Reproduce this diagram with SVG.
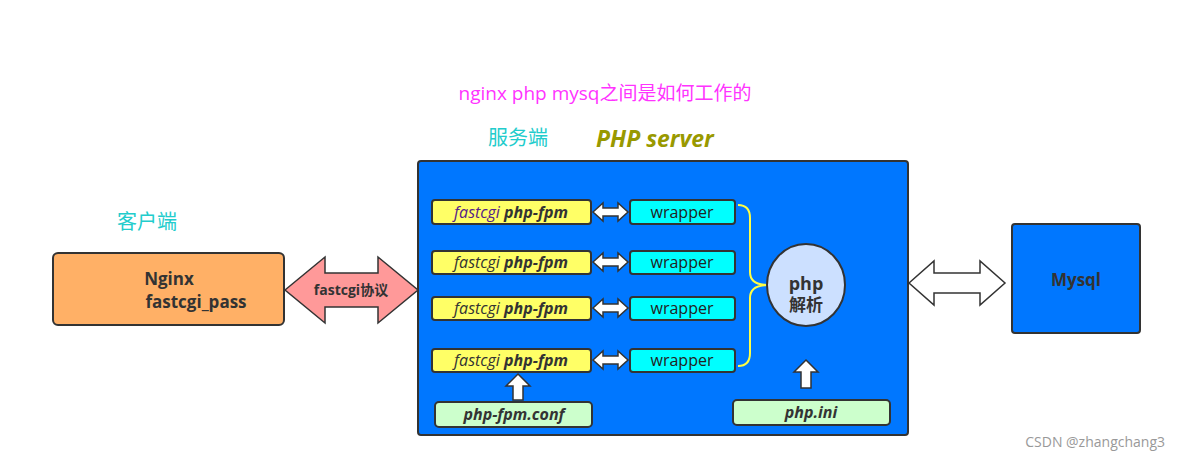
<svg xmlns="http://www.w3.org/2000/svg" width="1179" height="460" viewBox="0 0 1179 460">
<style>
text{font-family:"Open Sans","Liberation Sans","Noto Sans CJK SC",sans-serif}
.y{fill:#ffff66;stroke:#333;stroke-width:2}
.c{fill:#00ffff;stroke:#333;stroke-width:2}
.g{fill:#ccffcc;stroke:#333;stroke-width:2}
.w{fill:#fff;stroke:#333;stroke-width:1.5}
.t{font-size:16px;fill:#333;font-style:italic}
.b{font-weight:bold}
.wr{font-size:16px;fill:#222}
</style>
<rect width="1179" height="460" fill="#fff"/>
<text x="605" y="100" text-anchor="middle" font-size="19" fill="#ff33ff">nginx php mysq之间是如何工作的</text>
<text x="488" y="145" font-size="20" fill="#22cccc">服务端</text>
<text x="596" y="147" font-size="23" font-weight="bold" font-style="italic" fill="#999900">PHP server</text>
<text x="117" y="229" font-size="20" fill="#22cccc">客户端</text>
<g id="server"><rect x="418" y="161" width="490" height="274" rx="3" fill="#0077ff" stroke="#333" stroke-width="2"/></g>
<g id="nginx"><rect x="53" y="253" width="231" height="72" rx="5" fill="#ffb066" stroke="#333" stroke-width="2"/>
<text x="169" y="285" text-anchor="middle" font-size="17" font-weight="bold" fill="#333">Nginx</text>
<text x="196" y="308" text-anchor="middle" font-size="17" font-weight="bold" fill="#333">fastcgi_pass</text></g>
<g id="mysql"><rect x="1012" y="224" width="128" height="109" rx="3" fill="#0077ff" stroke="#333" stroke-width="2"/>
<text x="1076" y="286" text-anchor="middle" font-size="17" font-weight="bold" fill="#333">Mysql</text></g>
<g id="connectors">
<path d="M285,290 L325,257 L325,273 L378,273 L378,257 L418,290 L378,323 L378,307 L325,307 L325,323 Z" fill="#ff9999" stroke="#333" stroke-width="1.5"/>
<text x="351" y="295" text-anchor="middle" font-size="14" font-weight="bold" fill="#333">fastcgi协议</text>
<path d="M909,283 L934,261 L934,273 L980,273 L980,261 L1005,283 L980,305 L980,293 L934,293 L934,305 Z" class="w"/>
<path d="M738,205 Q750,205 750,218 L750,272 Q750,285 768,285 Q750,285 750,298 L750,353 Q750,366 738,366" fill="none" stroke="#ffff44" stroke-width="2"/>
<path d="M593,212 L603,203 L603,208 L618,208 L618,203 L628,212 L618,221 L618,216 L603,216 L603,221 Z" class="w"/>
<path d="M593,262 L603,253 L603,258 L618,258 L618,253 L628,262 L618,271 L618,266 L603,266 L603,271 Z" class="w"/>
<path d="M593,308 L603,299 L603,304 L618,304 L618,299 L628,308 L618,317 L618,312 L603,312 L603,317 Z" class="w"/>
<path d="M593,360 L603,351 L603,356 L618,356 L618,351 L628,360 L618,369 L618,364 L603,364 L603,369 Z" class="w"/>
<path d="M518,374 L530,386 L523,386 L523,400 L513,400 L513,386 L506,386 Z" class="w"/>
<path d="M806,360 L818,372 L811,372 L811,388 L801,388 L801,372 L794,372 Z" class="w"/>
</g>
<g id="fpm1"><rect x="432" y="200" width="159" height="24" rx="3" class="y"/><text x="511" y="218" text-anchor="middle" class="t"><tspan fill="#552288">fastcgi</tspan>  <tspan class="b">php-fpm</tspan></text></g>
<g id="fpm2"><rect x="432" y="251" width="159" height="23" rx="3" class="y"/><text x="511" y="268" text-anchor="middle" class="t">fastcgi <tspan class="b">php-fpm</tspan></text></g>
<g id="fpm3"><rect x="432" y="297" width="159" height="23" rx="3" class="y"/><text x="511" y="314" text-anchor="middle" class="t">fastcgi <tspan class="b">php-fpm</tspan></text></g>
<g id="fpm4"><rect x="432" y="349" width="159" height="23" rx="3" class="y"/><text x="511" y="366" text-anchor="middle" class="t">fastcgi <tspan class="b">php-fpm</tspan></text></g>
<g id="w1"><rect x="630" y="200" width="105" height="24" rx="3" class="c"/><text x="682" y="218" text-anchor="middle" class="wr">wrapper</text></g>
<g id="w2"><rect x="630" y="251" width="105" height="23" rx="3" class="c"/><text x="682" y="268" text-anchor="middle" class="wr">wrapper</text></g>
<g id="w3"><rect x="630" y="297" width="105" height="23" rx="3" class="c"/><text x="682" y="314" text-anchor="middle" class="wr">wrapper</text></g>
<g id="w4"><rect x="630" y="349" width="105" height="23" rx="3" class="c"/><text x="682" y="366" text-anchor="middle" class="wr">wrapper</text></g>
<g id="php"><ellipse cx="806" cy="285" rx="39" ry="41" fill="#cce0ff" stroke="#333" stroke-width="2"/>
<text x="806" y="290" text-anchor="middle" font-size="18" font-weight="bold" fill="#333">php</text>
<text x="806" y="311" text-anchor="middle" font-size="17" font-weight="bold" fill="#333">解析</text></g>
<g id="conf"><rect x="435" y="402" width="157" height="25" rx="4" class="g"/><text x="514" y="420" text-anchor="middle" class="t b">php-fpm.conf</text></g>
<g id="ini"><rect x="733" y="400" width="157" height="25" rx="4" class="g"/><text x="811" y="418" text-anchor="middle" class="t b">php.ini</text></g>
<text x="1165" y="447" text-anchor="end" font-size="14" fill="#999">CSDN @zhangchang3</text>
</svg>
